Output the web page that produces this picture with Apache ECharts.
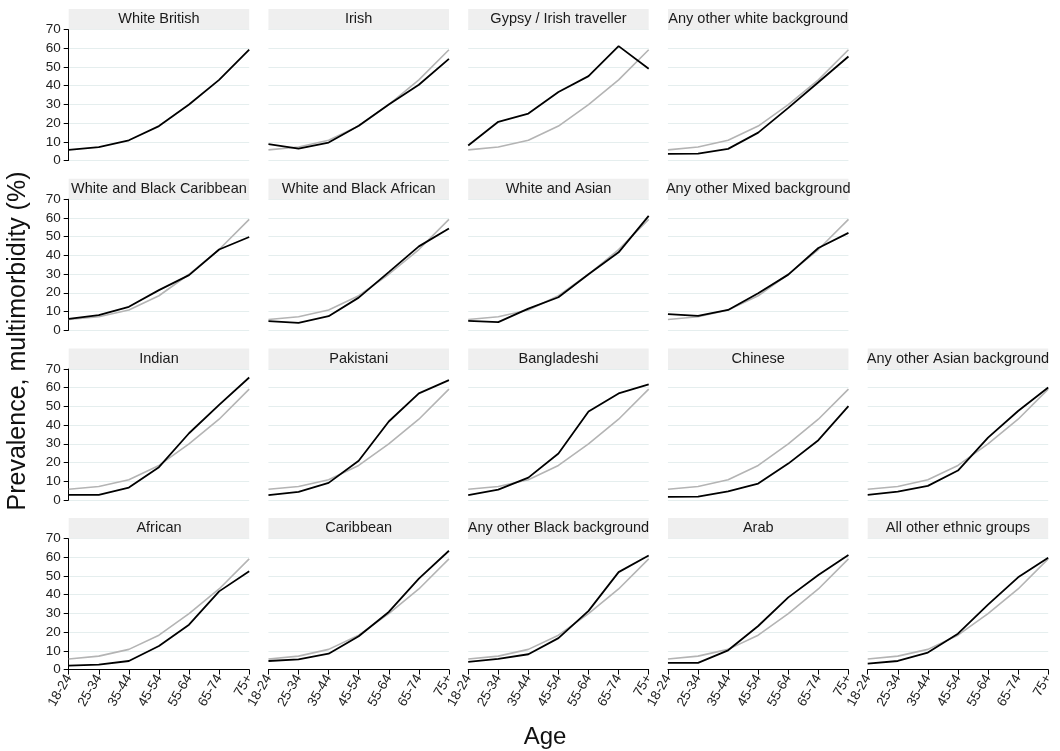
<!DOCTYPE html>
<html>
<head>
<meta charset="utf-8">
<script src="https://cdn.jsdelivr.net/npm/echarts@6/dist/echarts.min.js"></script>
<style>
html,body{margin:0;padding:0;background:#fff;}
#chart{width:1060px;height:751px;}
</style>
</head>
<body>
<div id="chart"></div>
<script>
// ---- data ----
const ages = ['18-24','25-34','35-44','45-54','55-64','65-74','75+'];
const yTicks = [0,10,20,30,40,50,60,70];

const whiteBritish        = [5.7, 7.2, 10.8, 18.4, 29.9, 43.1, 59.2];
const irish               = [8.8, 6.4, 9.6, 18.6, 29.9, 40.5, 54.3];
const gypsyIrishTraveller = [8.0, 20.7, 25.1, 36.6, 45.1, 61.1, 49.0];
const anyOtherWhite       = [3.5, 3.7, 6.2, 14.9, 28.1, 41.8, 55.6];
const whiteBlackCaribbean = [6.0, 8.0, 12.5, 21.4, 29.4, 43.1, 49.8];
const whiteBlackAfrican   = [4.8, 3.9, 7.5, 17.4, 31.0, 44.8, 54.3];
const whiteAsian          = [5.0, 4.3, 11.5, 17.6, 29.9, 41.6, 61.1];
const anyOtherMixed       = [8.6, 7.7, 10.8, 19.7, 29.7, 43.9, 52.0];
const indian              = [2.7, 2.7, 6.6, 17.5, 35.6, 50.8, 65.4];
const pakistani           = [2.5, 4.3, 9.1, 20.9, 41.9, 56.9, 64.0];
const bangladeshi         = [2.5, 5.5, 11.9, 24.8, 47.2, 56.9, 61.7];
const chinese             = [1.6, 1.8, 4.5, 8.7, 19.4, 31.9, 50.1];
const anyOtherAsian       = [2.7, 4.4, 7.5, 15.7, 33.3, 47.5, 60.1];
const african             = [2.1, 2.7, 4.6, 12.6, 24.0, 41.8, 52.5];
const caribbean           = [4.6, 5.5, 8.5, 17.8, 30.8, 48.6, 63.5];
const anyOtherBlack       = [4.1, 5.7, 8.2, 16.8, 31.4, 52.1, 61.0];
const arab                = [3.6, 3.6, 10.3, 23.3, 38.6, 50.5, 61.2];
const allOtherEthnic      = [3.2, 4.6, 9.1, 19.2, 34.7, 49.3, 59.8];

// panel name, values, row, column
const panels = [
  ['White British', whiteBritish, 0, 0],
  ['Irish', irish, 0, 1],
  ['Gypsy / Irish traveller', gypsyIrishTraveller, 0, 2],
  ['Any other white background', anyOtherWhite, 0, 3],
  ['White and Black Caribbean', whiteBlackCaribbean, 1, 0],
  ['White and Black African', whiteBlackAfrican, 1, 1],
  ['White and Asian', whiteAsian, 1, 2],
  ['Any other Mixed background', anyOtherMixed, 1, 3],
  ['Indian', indian, 2, 0],
  ['Pakistani', pakistani, 2, 1],
  ['Bangladeshi', bangladeshi, 2, 2],
  ['Chinese', chinese, 2, 3],
  ['Any other Asian background', anyOtherAsian, 2, 4],
  ['African', african, 3, 0],
  ['Caribbean', caribbean, 3, 1],
  ['Any other Black background', anyOtherBlack, 3, 2],
  ['Arab', arab, 3, 3],
  ['All other ethnic groups', allOtherEthnic, 3, 4]
];

// ---- layout ----
const FONT = "'Liberation Sans', Arial, Helvetica, sans-serif";
const L0 = 68.7, COLSTEP = 199.75, W = 180.5;
const T0 = 29.5, ROWSTEP = 169.7, H = 131;
const STRIP = 20.5;
const LASTROW = 3;

const grids = [], xAxes = [], yAxes = [], series = [], graphics = [];

panels.forEach((p, i) => {
  const [name, vals, r, c] = p;
  const left = L0 + c * COLSTEP, top = T0 + r * ROWSTEP;
  grids.push({left: left, top: top, width: W, height: H});
  const bottom = (r === LASTROW);
  xAxes.push({
    type: 'category', gridIndex: i, data: ages, boundaryGap: false,
    axisLine: {show: bottom, lineStyle: {color: '#000', width: 1}},
    axisTick: {show: bottom, length: 5, alignWithLabel: true, lineStyle: {color: '#000'}},
    axisLabel: {show: bottom, rotate: 60, margin: 6, fontSize: 13.5, color: '#222', fontFamily: FONT},
    splitLine: {show: false}
  });
  const first = (c === 0);
  yAxes.push({
    type: 'value', gridIndex: i, min: 0, max: 70, interval: 10,
    axisLine: {show: first, lineStyle: {color: '#000', width: 1}},
    axisTick: {show: first, length: 5, lineStyle: {color: '#000'}},
    axisLabel: {show: first, margin: 8, fontSize: 13.5, color: '#222', fontFamily: FONT},
    splitLine: {show: true, lineStyle: {color: '#e5eeee', width: 1}}
  });
  if (i !== 0) {
    series.push({
      type: 'line', xAxisIndex: i, yAxisIndex: i, data: whiteBritish,
      showSymbol: false, symbol: 'none', silent: true, z: 2,
      lineStyle: {color: '#b4b4b4', width: 1.6}
    });
  }
  series.push({
    type: 'line', xAxisIndex: i, yAxisIndex: i, data: vals,
    showSymbol: false, symbol: 'none', silent: true, z: 3,
    lineStyle: {color: '#000', width: 1.8}
  });
  graphics.push({
    type: 'rect', z: 50,
    shape: {x: left, y: top - STRIP, width: W, height: STRIP},
    style: {fill: '#efefef'}
  });
  graphics.push({
    type: 'text', z: 51,
    x: left + W / 2, y: top - STRIP / 2,
    style: {text: name, fill: '#1a1a1a', font: '14.5px ' + FONT, align: 'center', verticalAlign: 'middle'}
  });
});

graphics.push({
  type: 'text', z: 51, x: 18, y: 341, rotation: Math.PI / 2,
  style: {text: 'Prevalence, multimorbidity (%)', fill: '#111', font: '25px ' + FONT, align: 'center', verticalAlign: 'middle'}
});
graphics.push({
  type: 'text', z: 51, x: 545, y: 737,
  style: {text: 'Age', fill: '#111', font: '24px ' + FONT, align: 'center', verticalAlign: 'middle'}
});

const chart = echarts.init(document.getElementById('chart'), null, {renderer: 'canvas'});
chart.setOption({
  backgroundColor: '#fff',
  animation: false,
  grid: grids,
  xAxis: xAxes,
  yAxis: yAxes,
  series: series,
  graphic: graphics
});
</script>
</body>
</html>
